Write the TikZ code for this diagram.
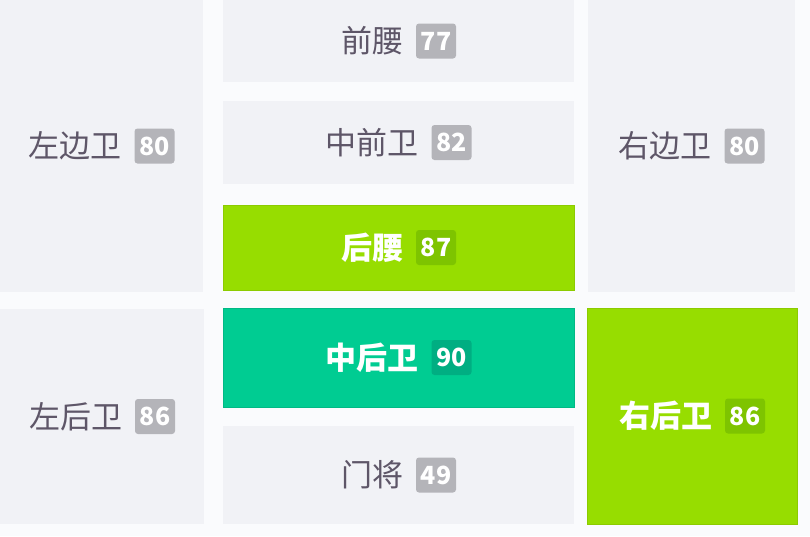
\documentclass[tikz,border=0pt]{standalone}
\usepackage{fontspec}
\newfontfamily\cjk{Noto Sans CJK SC}
\definecolor{bgc}{HTML}{FAFBFD}
\definecolor{cellgray}{HTML}{F1F2F6}
\definecolor{txtgray}{HTML}{5E5668}
\definecolor{badgegray}{HTML}{B4B4B9}
\definecolor{lime}{HTML}{97DD00}
\definecolor{limeedge}{HTML}{8CCB00}
\definecolor{limebadge}{HTML}{7EC400}
\definecolor{teal}{HTML}{00CC92}
\definecolor{tealedge}{HTML}{00B985}
\definecolor{tealbadge}{HTML}{00AE82}
\tikzset{
  cellbase/.style={inner sep=0pt, outer sep=0pt},
  graycell/.style={cellbase, fill=cellgray},
  limecell/.style={cellbase, fill=lime, draw=limeedge, line width=1pt},
  tealcell/.style={cellbase, fill=teal, draw=tealedge, line width=1pt},
  graytxt/.style={inner sep=0pt, text=txtgray, font=\cjk\fontsize{31}{31}\selectfont},
  whitetxt/.style={inner sep=0pt, text=white, font=\cjk\bfseries\fontsize{31}{31}\selectfont},
  badgebase/.style={inner sep=0pt, minimum width=40pt, minimum height=35pt, rounded corners=3pt, text=white, font=\cjk\bfseries\fontsize{25}{25}\selectfont},
  graybadge/.style={badgebase, fill=badgegray},
  limebadge/.style={badgebase, fill=limebadge},
  tealbadge/.style={badgebase, fill=tealbadge},
}
% #1 name, #2 x1, #3 y1, #4 x2, #5 y2, #6 cell style, #7 text style, #8 badge style, #9 text; the number follows
\newcommand\mkcell[9]{%
  \node[#6, minimum width={(#4-#2)*1pt}, minimum height={(#5-#3)*1pt}] (#1) at ({(#2+#4)/2},{(#3+#5)/2}) {};
  \node[#7] (#1t) at (#1.center) {#9\rule{53pt}{0pt}};
  \node[#8, anchor=east] (#1b) at (#1t.east)}
\begin{document}
\begin{tikzpicture}[x=1pt,y=-1pt]
\useasboundingbox (0,0) rectangle (810,536);
\fill[bgc] (0,0) rectangle (810,536);
\mkcell{lw}{0}{0}{203}{292}{graycell}{graytxt}{graybadge}{左边卫} {80};
\mkcell{lb}{0}{309}{204}{524}{graycell}{graytxt}{graybadge}{左后卫} {86};
\mkcell{am}{223}{0}{574}{82}{graycell}{graytxt}{graybadge}{前腰} {77};
\mkcell{cm}{223}{101}{574}{184}{graycell}{graytxt}{graybadge}{中前卫} {82};
\mkcell{dm}{223}{205}{574}{290}{limecell}{whitetxt}{limebadge}{后腰} {87};
\mkcell{cb}{223}{308}{574}{407}{tealcell}{whitetxt}{tealbadge}{中后卫} {90};
\mkcell{gk}{223}{426}{574}{524}{graycell}{graytxt}{graybadge}{门将} {49};
\mkcell{rw}{588}{0}{795}{292}{graycell}{graytxt}{graybadge}{右边卫} {80};
\mkcell{rb}{587}{308}{797}{524}{limecell}{whitetxt}{limebadge}{右后卫} {86};
\end{tikzpicture}
\end{document}
